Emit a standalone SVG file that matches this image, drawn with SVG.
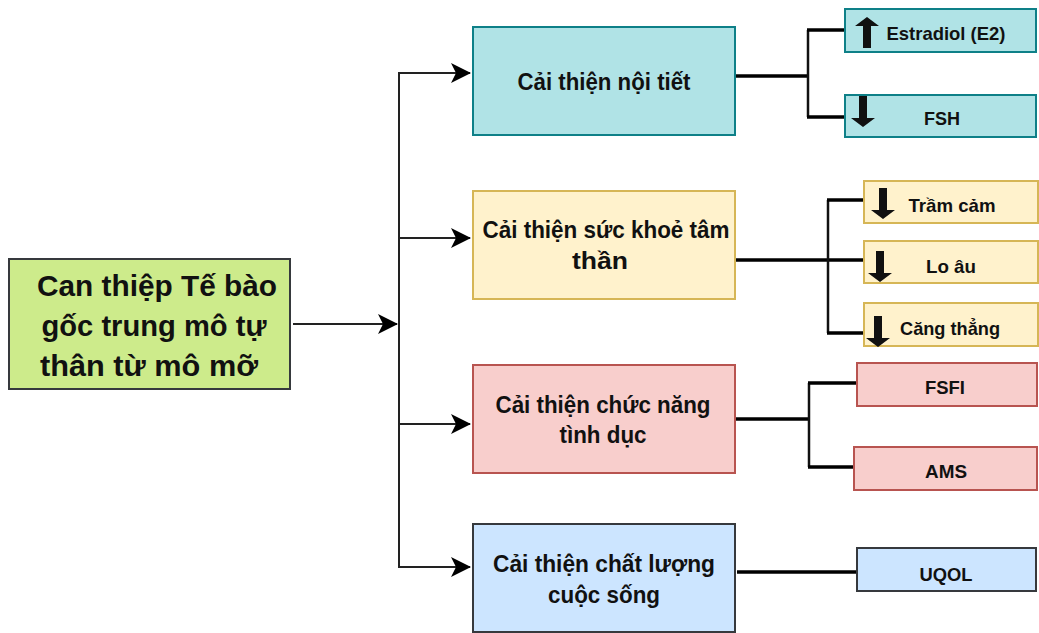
<svg xmlns="http://www.w3.org/2000/svg" width="1039" height="633" viewBox="0 0 1039 633">
  <defs>
    <marker id="arrow" viewBox="0 0 20 20" refX="19" refY="10" markerWidth="20" markerHeight="20" markerUnits="userSpaceOnUse" orient="auto">
      <path d="M0,0 L20,10 L0,20 L5,10 Z" fill="#000"/>
    </marker>
    <!-- thick down arrow glyph, tip at (0,0) pointing downward -->
    <path id="down" d="M-4,-31 L4,-31 L4,-9 L12,-9 L0,0 L-12,-9 L-4,-9 Z" fill="#111"/>
  </defs>
  <style>
    text { font-family: "Liberation Sans", Arial, sans-serif; font-weight: bold; fill: #111; text-anchor: middle; }
    .main { font-size: 30px; }
    .mid { font-size: 24px; }
    .leaf { font-size: 19px; }
    .teal { fill: #b0e3e6; stroke: #0e8088; stroke-width: 2; }
    .yellow { fill: #fff2cc; stroke: #d6b656; stroke-width: 2; }
    .red { fill: #f8cecc; stroke: #b85450; stroke-width: 2; }
    .blue { fill: #cce5ff; stroke: #36393d; stroke-width: 2; }
    .green { fill: #cdeb8b; stroke: #36393d; stroke-width: 2; }
    .trunk { fill: none; stroke: #222; stroke-width: 2; }
    .bar { fill: none; stroke: #000; stroke-width: 3.5; }
    .riser { fill: none; stroke: #111; stroke-width: 2.5; }
  </style>

  <rect width="1039" height="633" fill="#fff"/>

  <!-- connectors -->
  <g id="connectors">
    <line class="trunk" x1="293" y1="324" x2="397" y2="324" marker-end="url(#arrow)"/>
    <line class="trunk" x1="399" y1="72" x2="399" y2="568"/>
    <line class="trunk" x1="398" y1="73" x2="470" y2="73" marker-end="url(#arrow)"/>
    <line class="trunk" x1="399" y1="238" x2="470" y2="238" marker-end="url(#arrow)"/>
    <line class="trunk" x1="399" y1="424" x2="470" y2="424" marker-end="url(#arrow)"/>
    <line class="trunk" x1="398" y1="567" x2="470" y2="567" marker-end="url(#arrow)"/>

    <!-- endocrine -->
    <line class="bar" x1="736" y1="76" x2="808" y2="76"/>
    <line class="riser" x1="808" y1="30" x2="808" y2="117"/>
    <line class="bar" x1="807" y1="30" x2="845" y2="30"/>
    <line class="bar" x1="807" y1="117" x2="845" y2="117"/>

    <!-- mental health -->
    <line class="bar" x1="736" y1="260" x2="864" y2="260"/>
    <line class="riser" x1="828" y1="200" x2="828" y2="333"/>
    <line class="bar" x1="827" y1="200" x2="864" y2="200"/>
    <line class="bar" x1="827" y1="333" x2="864" y2="333"/>

    <!-- sexual function -->
    <line class="bar" x1="736" y1="419" x2="809" y2="419"/>
    <line class="riser" x1="809" y1="383" x2="809" y2="467"/>
    <line class="bar" x1="808" y1="383" x2="857" y2="383"/>
    <line class="bar" x1="808" y1="467" x2="854" y2="467"/>

    <!-- quality of life -->
    <line class="bar" x1="737" y1="572" x2="857" y2="572"/>
  </g>

  <!-- root -->
  <g id="root">
    <rect class="green" x="9" y="259" width="281" height="130"/>
    <text class="main" x="157" y="296" textLength="240" lengthAdjust="spacingAndGlyphs">Can thiệp Tế bào</text>
    <text class="main" x="154" y="336" textLength="225" lengthAdjust="spacingAndGlyphs">gốc trung mô tự</text>
    <text class="main" x="149" y="376" textLength="218" lengthAdjust="spacingAndGlyphs">thân từ mô mỡ</text>
  </g>

  <!-- middle column -->
  <g id="endocrine">
    <rect class="teal" x="473" y="27" width="262" height="108"/>
    <text class="mid" x="604" y="90" textLength="173" lengthAdjust="spacingAndGlyphs">Cải thiện nội tiết</text>
  </g>
  <g id="mental">
    <rect class="yellow" x="473" y="191" width="262" height="108"/>
    <text class="mid" x="606" y="238" textLength="247" lengthAdjust="spacingAndGlyphs">Cải thiện sức khoẻ tâm</text>
    <text class="mid" x="600" y="269" textLength="56" lengthAdjust="spacingAndGlyphs">thần</text>
  </g>
  <g id="sexual">
    <rect class="red" x="473" y="365" width="262" height="108"/>
    <text class="mid" x="603" y="413" textLength="215" lengthAdjust="spacingAndGlyphs">Cải thiện chức năng</text>
    <text class="mid" x="603" y="443" textLength="87" lengthAdjust="spacingAndGlyphs">tình dục</text>
  </g>
  <g id="qol">
    <rect class="blue" x="473" y="524" width="262" height="108"/>
    <text class="mid" x="604" y="572" textLength="222" lengthAdjust="spacingAndGlyphs">Cải thiện chất lượng</text>
    <text class="mid" x="604" y="603" textLength="112" lengthAdjust="spacingAndGlyphs">cuộc sống</text>
  </g>

  <!-- leaves -->
  <g id="estradiol">
    <rect class="teal" x="845" y="9" width="191" height="43"/>
    <use href="#down" transform="translate(867,17) rotate(180)"/>
    <text class="leaf" x="946" y="40" textLength="119" lengthAdjust="spacingAndGlyphs">Estradiol (E2)</text>
  </g>
  <g id="fsh">
    <rect class="teal" x="845" y="95" width="191" height="42"/>
    <use href="#down" transform="translate(863,127)"/>
    <text class="leaf" x="942" y="125" textLength="36" lengthAdjust="spacingAndGlyphs">FSH</text>
  </g>
  <g id="depression">
    <rect class="yellow" x="864" y="181" width="174" height="42"/>
    <use href="#down" transform="translate(883,219)"/>
    <text class="leaf" x="952" y="212" textLength="87" lengthAdjust="spacingAndGlyphs">Trầm cảm</text>
  </g>
  <g id="anxiety">
    <rect class="yellow" x="864" y="241" width="174" height="42"/>
    <use href="#down" transform="translate(880,282)"/>
    <text class="leaf" x="951" y="273" textLength="50" lengthAdjust="spacingAndGlyphs">Lo âu</text>
  </g>
  <g id="stress">
    <rect class="yellow" x="864" y="303" width="174" height="43"/>
    <use href="#down" transform="translate(878,347)"/>
    <text class="leaf" x="950" y="335" textLength="100" lengthAdjust="spacingAndGlyphs">Căng thẳng</text>
  </g>
  <g id="fsfi">
    <rect class="red" x="857" y="363" width="180" height="43"/>
    <text class="leaf" x="945" y="394" textLength="40" lengthAdjust="spacingAndGlyphs">FSFI</text>
  </g>
  <g id="ams">
    <rect class="red" x="854" y="447" width="183" height="43"/>
    <text class="leaf" x="946" y="478" textLength="42" lengthAdjust="spacingAndGlyphs">AMS</text>
  </g>
  <g id="uqol">
    <rect class="blue" x="857" y="548" width="179" height="43"/>
    <text class="leaf" x="946" y="581" textLength="53" lengthAdjust="spacingAndGlyphs">UQOL</text>
  </g>
</svg>
